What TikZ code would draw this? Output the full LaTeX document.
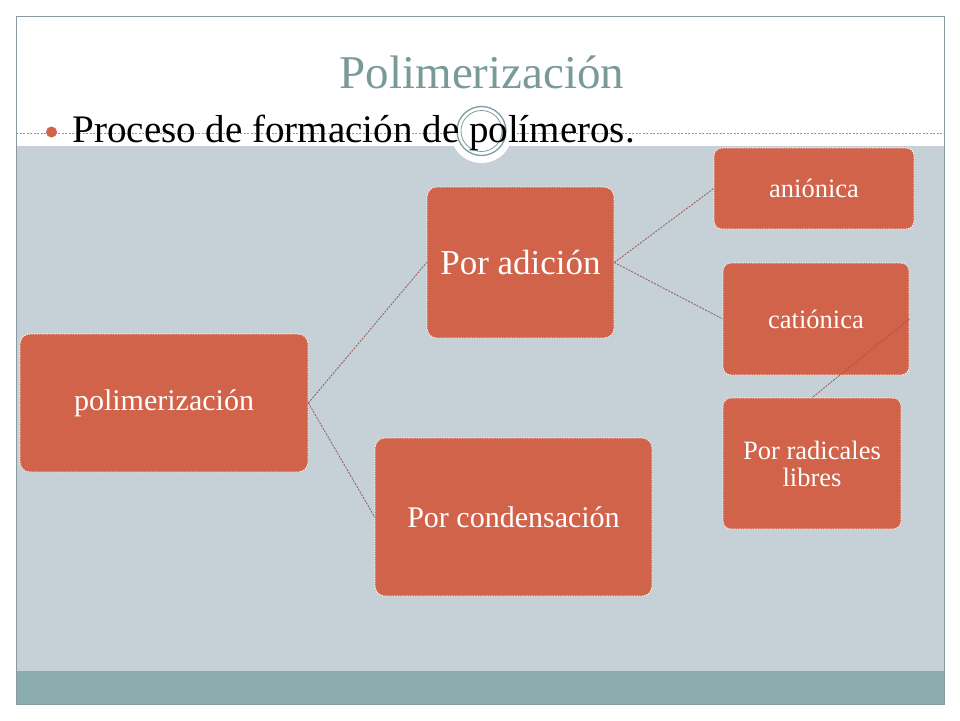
\documentclass[tikz,border=0pt]{standalone}
\usepackage{fontspec}
\setmainfont{Liberation Serif}
\definecolor{boxfill}{RGB}{209,99,74}
\definecolor{slidebg}{RGB}{197,209,215}
\definecolor{band}{RGB}{139,173,173}
\definecolor{titlecol}{RGB}{122,154,154}
\definecolor{framecol}{RGB}{138,154,160}
\definecolor{linkcol}{RGB}{150,85,85}
\definecolor{ringcol}{RGB}{127,157,160}
\tikzset{
  box/.style={draw=white, dash pattern=on 1.5pt off 1pt, line width=0.7pt, fill=boxfill,
    rounded corners=10pt, inner sep=0pt, align=center, text=white},
  link/.style={draw=linkcol, line width=0.8pt, dash pattern=on 2pt off 1.2pt},
}
\begin{document}
\begin{tikzpicture}[x=1pt,y=-1pt]
\useasboundingbox (0,0) rectangle (960,720);
\fill[white] (0,0) rectangle (960,720);
% slide areas
\fill[slidebg] (16,146) rectangle (944,671);
\fill[band] (16,671) rectangle (944,704);
\draw[framecol, line width=0.8pt] (16,16) rectangle (944,704);
% dashed divider
\draw[framecol, line width=0.6pt, dash pattern=on 2pt off 1.5pt] (16,133.5) -- (944,133.5);
% ornament
\fill[white] (481.5,132) circle (31);
\draw[ringcol, line width=1.3pt] (481.5,131) circle (24.5);
\draw[ringcol, line width=0.8pt] (481.5,131) circle (20.5);
% title
\node[anchor=base, text=titlecol, font=\fontsize{47}{56}\selectfont, inner sep=0pt] (title) at (482,88.3) {Polimerización};
% bullet
\node[circle, fill=boxfill, inner sep=0pt, minimum size=11pt] (dot) at (51.5,132) {};
\node[anchor=base west, font=\fontsize{39}{46}\selectfont, inner sep=0pt] (bullet) at (72.5,142.7) {Proceso de formación de polímeros.};
% boxes
\node[box, minimum width=288pt, minimum height=138pt, font=\fontsize{30}{34}\selectfont] (polim) at (164,403) {polimerización};
\node[box, minimum width=187pt, minimum height=151pt, font=\fontsize{35}{40}\selectfont] (adic) at (520.5,262.5) {Por adición};
\node[box, minimum width=277pt, minimum height=158pt, font=\fontsize{30}{34}\selectfont] (cond) at (513.5,517) {Por condensación};
\node[box, minimum width=200pt, minimum height=81pt, rounded corners=8pt, font=\fontsize{26.5}{27}\selectfont] (anion) at (814,188.5) {aniónica};
\node[box, minimum width=186pt, minimum height=112pt, rounded corners=8pt, font=\fontsize{26.5}{27}\selectfont] (cation) at (816,319) {catiónica};
\node[box, minimum width=178pt, minimum height=131pt, rounded corners=8pt, font=\fontsize{26.5}{27}\selectfont] (radic) at (812,463.5) {Por radicales\\libres};
% connectors
\draw[link] (polim.east) -- (adic.west);
\draw[link] (polim.east) -- (cond.west);
\draw[link] (adic.east) -- (anion.west);
\draw[link] (adic.east) -- (cation.west);
\draw[link] (cation.east) -- (radic.north);
\end{tikzpicture}
\end{document}
